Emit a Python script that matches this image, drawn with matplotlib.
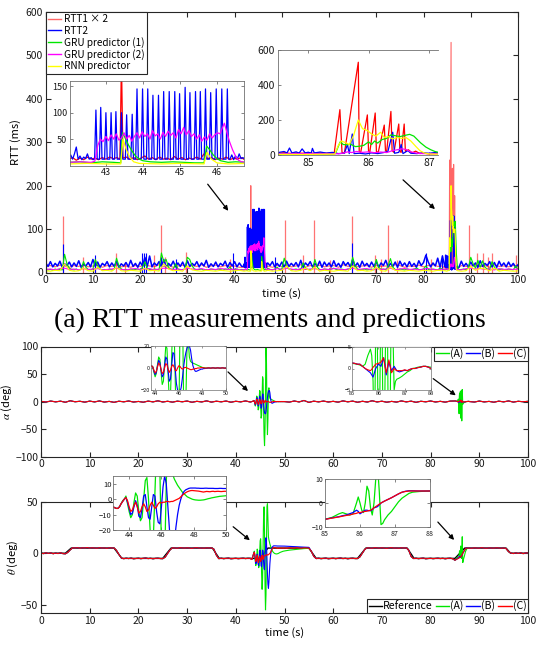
import numpy as np
import matplotlib
matplotlib.use("Agg")
import matplotlib.pyplot as plt
from matplotlib.patches import FancyArrowPatch
from matplotlib.lines import Line2D

plt.rcParams['font.family'] = ['Noto Sans CJK JP', 'DejaVu Sans']
plt.rcParams['mathtext.fontset'] = 'stix'

# ---------------------------------------------------------------- RTT data
t_half = np.arange(201) * 0.5      # 0 .. 100 s, 0.5 s grid
t_sec = np.arange(101) * 1.0       # 0 .. 100 s, 1 s grid

rtt2_base = [22, 14, 25, 13, 21, 15, 26, 12, 20, 16, 24, 13, 22, 14, 27, 12, 19, 15, 23, 13,
             30, 14, 24, 12, 21, 16, 25, 13, 22, 14, 26, 12, 20, 15, 23, 13, 28, 14, 21, 12,
             24, 15, 35, 14, 38, 13, 22, 16, 25, 13, 30, 12, 21, 15, 26, 13, 22, 14, 24, 12,
             27, 14, 21, 16, 25, 13, 22, 15, 28, 12, 20, 14, 24, 13, 21, 16, 26, 12, 23, 15,
             25, 13, 22, 14, 24, 12, 26, 15, 21, 13, 28, 14, 23, 12, 22, 16, 25, 13, 21, 14,
             24, 12, 26, 14, 21, 15, 23, 13, 28, 12, 22, 16, 25, 13, 21, 14, 26, 12, 24, 15,
             22, 13, 27, 14, 21, 12, 25, 16, 23, 13, 30, 14, 22, 12, 26, 15, 21, 13, 24, 14,
             25, 12, 22, 16, 28, 13, 21, 14, 24, 12, 26, 15, 22, 13, 25, 14, 21, 12, 27, 16,
             23, 40, 24, 13, 22, 15, 33, 12, 38, 14, 25, 13, 22, 16, 24, 12, 26, 14, 21, 13,
             24, 15, 22, 12, 27, 14, 21, 16, 25, 13, 23, 12, 26, 15, 22, 13, 24, 14, 21, 12,
             18]
rtt2_spk_t = [3.75, 10.4, 20.4, 20.8, 21.2, 24.5, 27.5, 39.6, 48.5, 64.8, 80.5, 84.0]
rtt2_spk_v = [65, 40, 45, 45, 45, 35, 30, 44, 36, 69, 44, 40]

rtt1_base = [14, 16, 13, 17, 15, 12, 16, 14, 18, 13, 15, 17, 12, 16, 14, 18, 13, 15, 12, 16,
             14, 17, 15, 13, 18, 14, 16, 12, 15, 17, 13, 16, 14, 18, 12, 15, 17, 13, 16, 14,
             15, 12, 17, 14, 16, 13, 18, 15, 12, 16, 14, 17, 13, 15, 18, 12, 16, 14, 17, 13,
             15, 16, 12, 18, 14, 17, 13, 15, 16, 12, 17, 14, 15, 13, 18, 16, 12, 15, 14, 17,
             13, 16, 18, 14, 15, 12, 17, 13, 16, 14, 15, 17, 13, 16, 12, 18, 14, 15, 13, 16, 14]
rtt1_spk_t = [0.05, 3.75, 7.95, 10.4, 14.9, 16.8, 22.9, 24.45, 25.2, 29.8, 39.0, 50.6, 54.5,
              56.8, 60.1, 64.8, 69.7, 70.9, 72.5, 74.4, 81.5, 89.6, 91.3, 92.5, 93.6, 94.5, 99.6]
rtt1_spk_v = [350, 130, 35, 30, 45, 25, 40, 110, 35, 48, 30, 121, 40,
              120, 28, 130, 40, 32, 110, 28, 30, 110, 45, 45, 35, 45, 40]

gru1_base = [8, 6, 7, 5, 8, 6, 7, 6, 42, 20, 10, 7, 6, 8, 5, 7, 25, 12, 7, 6,
             8, 30, 15, 8, 6, 7, 5, 8, 6, 7, 33, 15, 8, 6, 7, 5, 8, 6, 7, 8,
             6, 12, 25, 10, 7, 6, 8, 7, 6, 45, 25, 30, 12, 7, 8, 20, 8, 6, 7, 8,
             35, 30, 15, 8, 6, 7, 8, 5, 7, 6, 8, 7, 6, 8, 7, 5, 8, 7, 12, 6,
             7, 8, 6, 7, 8, 6, 7, 8, 6, 7, 8, 6, 7, 8, 10, 7, 6, 8, 12, 7,
             8, 33, 15, 8, 6, 7, 8, 6, 7, 22, 10, 7, 6, 8, 30, 12, 7, 6, 8, 7,
             6, 8, 10, 7, 6, 8, 7, 6, 8, 7, 35, 15, 8, 6, 7, 8, 6, 7, 8, 6,
             30, 12, 7, 8, 6, 15, 32, 12, 7, 6, 8, 7, 6, 8, 7, 6, 8, 10, 7, 6,
             8, 15, 7, 6, 8, 7, 6, 10, 8, 7, 7, 8, 6, 7, 8, 6, 7, 8, 6, 12,
             35, 20, 10, 28, 12, 27, 12, 8, 7, 25, 12, 7, 6, 8, 7, 6, 8, 7, 6, 15,
             8]
gru2_base = [7, 8, 6, 9, 10, 7, 8, 6, 9, 7, 8, 9, 6, 7, 8, 10, 7, 6, 8, 9,
             7, 8, 9, 6, 8, 10, 9, 7, 8, 6, 10, 8, 7, 9, 6, 8, 7, 9, 8, 7,
             8, 6, 9, 7, 8, 9, 7, 8, 6, 9, 7, 10, 8, 6, 9, 7, 8, 9, 6, 8,
             7, 9, 8, 6, 8, 10, 7, 8, 9, 6, 9, 7, 8, 10, 6, 8, 9, 7, 8, 6,
             8, 9, 7, 6, 8, 9, 7, 8, 6, 9, 10, 8, 9, 7, 8, 6, 9, 7, 8, 7, 8]
rnn_base = [4, 3, 5, 4, 20, 5, 3, 4, 10, 4, 3, 12, 4, 5, 3, 12, 4, 3, 5, 4,
            3, 10, 4, 5, 3, 20, 8, 4, 5, 3, 15, 6, 4, 3, 5, 4, 3, 5, 4, 3,
            4, 5, 3, 4, 5, 3, 4, 5, 3, 4, 5, 15, 4, 3, 5, 10, 4, 12, 3, 5,
            4, 3, 5, 4, 3, 15, 4, 5, 3, 4, 12, 4, 3, 12, 5, 4, 3, 5, 4, 3,
            5, 4, 3, 5, 4, 3, 4, 5, 3, 4, 14, 5, 10, 8, 4, 10, 3, 5, 4, 3, 4]

# congestion episode 1 (42 - 46.8 s)
rtt2_pre_t = [42.0, 42.05, 42.1, 42.15, 42.2, 42.25, 42.3, 42.35, 42.4, 42.45, 42.5, 42.55, 42.6, 42.65]
rtt2_pre_v = [14, 20, 12, 22, 35, 12, 18, 11, 16, 13, 22, 12, 15, 11]
rtt2_burst_t = [42.73, 42.86, 43.00, 43.14, 43.27, 43.42, 43.56, 43.71, 43.84, 43.99, 44.13, 44.27, 44.42,
                44.56, 44.71, 44.86, 44.99, 45.14, 45.27, 45.42, 45.55, 45.69, 45.83, 45.98, 46.13, 46.28]
rtt2_burst_v = [105, 110, 100, 100, 102, 100, 96, 97, 145, 145, 145, 133, 133,
                140, 140, 140, 136, 148, 138, 140, 140, 145, 138, 145, 145, 145]
rtt2_burst_floor = 12
rtt2_post_t = [46.35, 46.4, 46.45, 46.5, 46.55, 46.6, 46.65, 46.7, 46.75, 46.8]
rtt2_post_v = [12, 20, 11, 18, 12, 22, 13, 15, 12, 18]

rtt1_w1_t = [42.0, 42.1, 42.2, 42.3, 42.4, 42.5, 42.6, 42.7, 42.8, 42.9, 43.0, 43.1, 43.2, 43.3, 43.38,
             43.42, 43.46, 43.55, 43.65, 43.75, 43.85, 43.95, 44.05, 44.15, 44.25, 44.35, 44.45, 44.55,
             44.65, 44.75, 44.85, 44.95, 45.05, 45.15, 45.25, 45.35, 45.45, 45.55, 45.65, 45.75, 45.85,
             45.95, 46.05, 46.15, 46.25, 46.35, 46.45, 46.55, 46.65, 46.75]
rtt1_w1_v = [12, 15, 10, 14, 11, 16, 12, 14, 11, 15, 12, 16, 13, 15, 12, 200, 14, 16, 12, 15,
             11, 14, 18, 12, 15, 11, 16, 12, 14, 11, 17, 12, 15, 11, 14, 12, 16, 12, 22, 13,
             15, 11, 14, 12, 16, 11, 14, 12, 15, 11]
gru1_w1_t = [42.0, 42.3, 42.6, 42.9, 43.2, 43.40, 43.45, 43.5, 43.6, 43.7, 43.8, 43.9, 44.0, 44.2,
             44.5, 44.8, 45.1, 45.4, 45.65, 45.72, 45.8, 45.9, 46.0, 46.1, 46.3, 46.5, 46.8]
gru1_w1_v = [6, 7, 5, 7, 6, 5, 62, 55, 40, 28, 18, 12, 9, 7, 6, 7, 6, 5, 5, 37, 30, 20, 13, 9, 6, 7, 6]
gru2_w1_t = [42.0, 42.3, 42.6, 42.70, 42.78, 42.85, 42.92, 43.0, 43.07, 43.14, 43.21, 43.28, 43.35,
             43.42, 43.49, 43.56, 43.63, 43.70, 43.77, 43.84, 43.91, 43.98, 44.05, 44.12, 44.19,
             44.26, 44.33, 44.40, 44.47, 44.54, 44.61, 44.68, 44.75, 44.82, 44.89, 44.96, 45.03,
             45.10, 45.17, 45.24, 45.31, 45.38, 45.45, 45.52, 45.59, 45.66, 45.73, 45.80, 45.87,
             45.94, 46.01, 46.08, 46.15, 46.20, 46.27, 46.34, 46.42, 46.50, 46.58, 46.66, 46.8]
gru2_w1_v = [6, 7, 6, 8, 38, 50, 45, 55, 47, 58, 50, 60, 48, 52, 62, 50, 57, 46, 55, 62,
             52, 64, 55, 60, 50, 66, 56, 60, 50, 63, 55, 65, 57, 62, 52, 68, 60, 72, 58, 66,
             55, 60, 50, 58, 46, 54, 48, 60, 52, 58, 62, 60, 72, 80, 62, 45, 30, 18, 10, 7, 6]
rnn_w1_t = [42.0, 42.5, 43.0, 43.40, 43.46, 43.55, 43.65, 43.75, 43.9, 44.5, 45.0, 45.65, 45.73,
            45.85, 46.0, 46.3, 46.8]
rnn_w1_v = [3, 4, 3, 3, 50, 30, 15, 7, 4, 3, 4, 3, 25, 12, 5, 3, 4]

# congestion episode 2 (84.5 - 87.2 s)
rtt1_w2_t = [84.5, 84.6, 84.7, 84.8, 84.9, 85.0, 85.1, 85.2, 85.3, 85.4, 85.43, 85.525, 85.56, 85.60,
             85.83, 85.845, 85.87, 85.98, 86.0, 86.02, 86.11, 86.13, 86.16, 86.26, 86.28, 86.30,
             86.37, 86.39, 86.42, 86.50, 86.52, 86.54, 86.59, 86.61, 86.66, 86.72, 86.78, 86.85,
             86.9, 87.0, 87.1, 87.2]
rtt1_w2_v = [10, 13, 9, 12, 10, 13, 9, 12, 10, 11, 8, 259, 15, 12, 530, 20, 15, 229, 20, 15,
             240, 20, 15, 171, 25, 20, 249, 25, 15, 177, 20, 15, 177, 20, 30, 12, 22, 8, 12, 6, 8, 10]
rtt2_w2_t = [84.5, 84.6, 84.65, 84.69, 84.73, 84.8, 84.85, 84.9, 84.95, 85.0, 85.05, 85.07, 85.1,
             85.2, 85.3, 85.4, 85.5, 85.6, 85.65, 85.68, 85.73, 85.76, 85.85, 85.95, 86.05, 86.15,
             86.25, 86.32, 86.40, 86.43, 86.50, 86.54, 86.57, 86.65, 86.7, 86.8, 86.9, 87.0, 87.1, 87.2]
rtt2_w2_v = [14, 20, 12, 40, 12, 18, 11, 35, 12, 16, 11, 38, 12, 17, 11, 15, 8, 10, 60, 8,
             120, 8, 10, 6, 12, 8, 14, 20, 130, 10, 15, 60, 8, 25, 10, 8, 12, 10, 14, 11]
gru1_w2_t = [84.5, 84.8, 85.1, 85.4, 85.45, 85.50, 85.53, 85.58, 85.65, 85.70, 85.78, 85.85, 85.92,
             86.00, 86.05, 86.10, 86.15, 86.22, 86.30, 86.37, 86.45, 86.52, 86.60, 86.68, 86.75,
             86.86, 86.95, 87.03, 87.1, 87.2]
gru1_w2_v = [6, 7, 6, 5, 8, 50, 75, 60, 58, 62, 48, 50, 55, 75, 60, 80, 68, 88, 95, 115,
             110, 105, 112, 118, 108, 70, 45, 30, 20, 12]
gru2_w2_t = [84.5, 85.0, 85.5, 85.6, 85.65, 85.72, 85.80, 85.90, 86.0, 86.1, 86.2, 86.3, 86.40,
             86.48, 86.55, 86.62, 86.70, 86.8, 86.9, 87.2]
gru2_w2_v = [7, 8, 7, 12, 18, 14, 20, 15, 18, 13, 17, 14, 25, 30, 35, 32, 18, 10, 8, 7]
rnn_w2_t = [84.5, 84.9, 85.2, 85.44, 85.50, 85.55, 85.62, 85.68, 85.75, 85.83, 85.90, 85.98, 86.05,
            86.12, 86.20, 86.26, 86.33, 86.40, 86.48, 86.55, 86.62, 86.70, 86.78, 86.85, 86.92,
            87.0, 87.2]
rnn_w2_v = [4, 3, 4, 5, 55, 80, 70, 60, 110, 200, 150, 140, 120, 108, 130, 100, 105, 92, 100, 95,
            100, 80, 50, 25, 12, 6, 4]

# ------------------------------------------------------------ attitude data
alpha_quiet = [0.5, -0.8, 1.0, -0.5, 0.8, -1.2, 1.5, -0.3, 0.6, -1.0,
               0.9, -0.6, 1.2, -0.9, 0.4, -1.3, 0.7, -0.4, 1.1, -0.8,
               0.3, -1.1, 0.9, -0.5, 1.4, -0.7, 0.6, -1.0, 0.8, -0.3,
               1.0, -1.2, 0.5, -0.6, 1.3, -0.9, 0.7, -0.4, 1.0, -1.1,
               0.6, -0.5, 1.2, -0.8, 0.5, 0.0, 0.0, 0.0, 0.0, 0.0,
               0.4, -0.9, 1.1, -0.6, 2.0, -1.4, 0.8, -0.5, 1.0, -0.7,
               0.5, -1.0, 1.3, -0.4, 0.9, -1.2, 0.6, -0.8, 1.5, -0.6,
               0.7, -1.1, 0.4, -0.9, 1.2, -0.5, 0.8, -1.3, 0.6, -0.4,
               1.1, -0.7, 0.5, -1.0, 0.9, 0.0, 0.0, 0.0, 0.5, -0.8,
               1.0, -0.6, 0.4, -1.1, 0.8, -0.5, 1.2, -0.9, 0.6, -0.3, 0.5]

alpha_w1_t = np.round(43.6 + np.arange(65) * 0.1, 2)
alpha_c_w1 = [1.0, 2.0, 1.0, -2.0, -4.5, -3.0, 1.0, 4.5, 3.0, -1.0,
              -5.0, -4.0, 0.0, 4.0, 3.0, -1.0, -4.0, -2.0, 1.5, 3.0,
              1.0, -2.0, -2.5, 0.0, 2.0, 1.5, 0.0, -1.0, -0.5, 0.5,
              0.5, 0.0, -0.5, -1.0, -1.5, -1.5, -1.0, -1.0, -0.5, -0.5,
              0.0, 0.0, 0.0, 0.5, 0.3, 0.2, 0.0, -0.2, 0.0, 0.2,
              0.0, -0.2, 0.0, 0.2, 0.0, -0.2, 0.0, 0.2, 0.0, -0.2,
              0.0, 0.2, 0.0, -0.2, 0.0]
alpha_b_w1 = [1.0, 2.0, 1.0, -3.0, -6.0, -4.0, 2.0, 7.0, 5.0, -2.0,
              -8.0, -6.0, 2.0, 10.0, 8.0, -3.0, -12.0, -10.0, 2.0, 14.0,
              13.0, 0.0, -14.0, -20.0, -22.0, -22.0, -18.0, -10.0, 0.0, 8.0,
              14.0, 18.0, 20.0, 20.0, 16.0, 8.0, 2.0, -1.0, -3.0, -3.0,
              -2.5, -2.0, -1.5, -1.0, -1.0, -0.5, -0.5, -0.3, 0.0, 0.0,
              0.0, -0.2, 0.0, 0.2, 0.0, -0.2, 0.0, 0.2, 0.0, -0.2,
              0.0, 0.2, 0.0, -0.2, 0.0]
alpha_a_w1 = [1.0, 2.0, 1.0, -4.0, -8.0, -5.0, 3.0, 10.0, 8.0, -4.0,
              -15.0, -12.0, 4.0, 20.0, 18.0, -5.0, -30.0, -25.0, 10.0, 45.0,
              40.0, -10.0, -60.0, -80.0, -50.0, 30.0, 100.0, 70.0, -20.0, -60.0,
              -30.0, 20.0, 25.0, 10.0, 6.0, 5.0, 4.5, 4.0, 3.5, 3.0,
              2.5, 2.0, 1.5, 1.0, 0.5, 0.3, 0.0, 0.0, 0.0, 0.0,
              0.0, 0.0, 0.0, 0.0, 0.0, 0.0, 0.0, 0.0, 0.0, 0.0,
              0.0, 0.0, 0.0, 0.0, 0.0]

alpha_w2_t = [85.0, 85.1, 85.2, 85.3, 85.4, 85.5, 85.6, 85.7, 85.75, 85.8, 85.85, 85.9, 85.95, 86.0,
              86.05, 86.1, 86.15, 86.2, 86.25, 86.3, 86.35, 86.4, 86.45, 86.5, 86.55, 86.6, 86.65,
              86.7, 86.8, 86.9, 87.0, 87.1, 87.2, 87.3, 87.4, 87.5, 87.6, 87.7, 87.8, 87.9, 88.0]
alpha_c_w2 = [1.3, 1.2, 1.0, 1.0, 0.5, 0.0, -0.3, -0.5, -0.2, 0.3, 0.6, 1.0, 1.1, 1.2, 1.3,
              1.5, 2.0, 2.5, 0.5, -1.0, 0.5, 2.0, 0.5, -1.0, -0.5, 0.0, -0.3, -0.5, -0.5, -0.5,
              -0.3, -0.5, -0.2, 0.0, 0.0, 0.2, 0.3, 0.5, 0.5, 0.3, 0.0]
alpha_b_w2 = [1.3, 1.2, 1.0, 1.0, 0.5, 0.0, -0.5, -1.0, -1.5, -2.0, -1.0, 0.0, 0.5, 1.0, 0.8,
              0.5, 1.5, 2.5, 1.0, -1.5, 0.0, 1.5, 0.5, -0.5, 0.0, 0.5, 0.0, -0.5, -0.8, -0.6,
              -0.4, -0.5, -0.2, 0.0, 0.0, 0.2, 0.3, 0.5, 0.5, 0.3, 0.0]
alpha_a_w2 = [1.2, 1.1, 1.0, 0.8, 0.5, 1.0, 3.0, 4.5, 3.0, -3.0, -22.0, 10.0, 15.0, -20.0, -10.0,
              18.0, 5.0, -30.0, -5.0, 20.0, 8.0, -35.0, -10.0, 22.0, 10.0, -5.0, -3.0, -2.5, -2.2,
              -1.8, -1.3, -0.8, -0.5, 0.0, 0.1, 0.3, 0.4, 0.5, 0.5, 0.4, 0.3]

theta_ref_t = [0, 5.0, 6.2, 15.0, 16.6, 25.0, 26.7, 35.2, 36.6, 45.0, 46.6, 55.0, 56.5, 65.0, 66.7,
               75.2, 76.6, 85.0, 87.0, 95.5, 96.4, 100]
theta_ref_v = [0, 0, 5, 5, -5, -5, 5, 5, -5, -5, 5, 5, -5, -5, 5, 5, -5, -5, 5, 5, 0, 0]

theta_quiet = [0.3, -0.4, 0.5, -0.2, 0.4, -0.5, 0.2, -0.3, 0.5, -0.4,
               -0.6, 0.8, 3.2, 5.3, 5.0, 5.4, 4.8, 5.3, 5.0, 5.5,
               4.9, 5.3, 5.1, 4.8, 5.4, 5.0, 5.2, 4.7, 5.3, 5.1,
               5.1, 2.8, -1.2, -4.6, -5.3, -4.8, -5.2, -4.7, -5.4, -5.1,
               -4.8, -5.3, -5.0, -4.6, -5.2, -4.9, -5.4, -5.0, -4.8, -5.2,
               -5.3, -3.8, -0.2, 3.2, 5.3, 5.0, 4.8, 5.4, 5.1, 4.9,
               5.3, 5.0, 4.7, 5.2, 5.4, 4.9, 5.1, 4.8, 5.3, 5.0,
               5.2, 4.0, -1.8, -5.3, -4.8, -5.3, -5.0, -4.7, -5.4, -5.1,
               -4.9, -5.3, -5.0, -4.8, -5.2, -4.9, -5.0, -5.5, -4.8, -3.2,
               -2.5, -2.0, -1.5, 0.0, 4.0, 5.5, 5.0, 5.2, 4.8, 5.0,
               5.1, 4.8, 5.3, 5.0, 4.9, 5.4, 5.0, 4.8, 5.2, 5.1,
               5.0, 2.0, -3.0, -5.2, -4.8, -5.3, -5.0, -4.7, -5.4, -5.1,
               -4.8, -5.3, -5.0, -4.6, -5.2, -4.9, -5.4, -5.0, -4.8, -5.2,
               -5.2, -3.5, 0.2, 3.8, 5.3, 5.0, 4.8, 5.4, 5.1, 4.9,
               5.3, 5.0, 4.7, 5.2, 5.4, 4.9, 5.1, 4.8, 5.3, 5.0,
               5.2, 3.0, -3.2, -5.2, -4.8, -5.3, -5.0, -4.7, -5.4, -5.1,
               -4.9, -5.3, -5.0, -4.8, -5.2, -4.9, -5.4, -5.0, -4.8, -5.3,
               -6.5, -5.5, -4.0, -1.0, 3.0, 5.0, 5.2, 4.8, 5.3, 5.0,
               4.9, 5.4, 5.0, 4.8, 5.2, 5.1, 4.9, 5.3, 5.0, 4.8,
               5.2, 4.5, 1.5, 0.2, -0.3, 0.4, -0.2, 0.5, -0.4, 0.3,
               0.2]

theta_w1_t = np.round(43.0 + np.arange(71) * 0.1, 2)
theta_c_w1 = [-5.0, -5.5, -6.0, -6.0, -5.0, -3.0, -1.5, 0.0, 1.0, -1.0,
              -5.0, -8.0, -7.0, -4.0, -2.0, -5.0, -9.0, -8.0, -5.0, -3.0,
              -5.0, -8.0, -7.0, -4.0, -2.0, -4.0, -6.0, -5.0, -3.0, -2.0,
              -2.5, -2.0, -2.0, -1.5, -1.5, -1.8, -1.5, -1.5, -1.0, -0.5,
              0.0, 0.5, 1.5, 2.5, 3.5, 4.2, 4.8, 5.2, 5.5, 5.6,
              5.5, 5.4, 5.3, 5.2, 5.0, 4.8, 4.6, 4.8, 5.0, 4.9,
              4.8, 5.0, 5.1, 4.9, 5.0, 5.1, 5.0, 4.9, 5.0, 5.1,
              5.1]
theta_b_w1 = [-5.0, -5.5, -6.0, -6.0, -5.0, -3.0, -1.5, 0.0, 1.0, -2.0,
              -6.0, -10.0, -9.0, -5.0, -1.0, -4.0, -11.0, -12.0, -6.0, 2.0,
              3.0, -5.0, -12.0, -13.0, -5.0, 3.0, 2.0, -8.0, -15.0, -16.0,
              -5.0, 8.0, 15.0, 10.0, -5.0, -20.0, -30.0, -34.0, -28.0, -18.0,
              -10.0, -4.0, 0.0, 3.0, 5.0, 6.0, 6.5, 7.0, 7.2, 7.2,
              7.2, 7.2, 7.1, 7.1, 7.0, 7.0, 7.0, 7.1, 7.1, 7.0,
              7.0, 7.0, 7.0, 6.9, 6.9, 6.9, 7.0, 7.0, 6.9, 6.9,
              6.9]
theta_a_w1 = [-5.0, -5.5, -6.0, -6.0, -5.0, -3.0, -1.0, 0.0, 2.0, -3.0,
              -8.0, -12.0, -10.0, -2.0, 4.0, 2.0, -8.0, -14.0, -12.0, 0.0,
              12.0, 14.0, 0.0, -20.0, -35.0, -25.0, 5.0, 35.0, 45.0, 20.0,
              -30.0, -55.0, -40.0, 10.0, 45.0, 48.0, 30.0, 16.0, 13.0, 11.0,
              9.0, 7.5, 6.0, 4.5, 3.5, 2.5, 1.5, 1.0, 0.5, 0.0,
              -0.3, -0.5, -0.6, -0.7, -0.7, -0.6, -0.5, -0.3, 0.0, 0.3,
              0.5, 0.8, 1.0, 1.2, 1.4, 1.6, 1.8, 1.9, 2.0, 2.1,
              2.2]
theta_settle_t = [51.0, 52.0, 53.0, 54.0, 55.0]
theta_b_settle = [6.7, 6.4, 6.1, 5.9, 5.7]
theta_a_settle = [3.0, 3.5, 4.0, 4.5, 4.8]

theta_w2_t = [85.0, 85.2, 85.4, 85.5, 85.6, 85.7, 85.8, 85.9, 85.95, 86.0, 86.05, 86.1, 86.15, 86.2,
              86.25, 86.3, 86.35, 86.4, 86.45, 86.5, 86.55, 86.6, 86.65, 86.7, 86.8, 86.9, 87.0,
              87.1, 87.2, 87.3, 87.4, 87.5, 87.7, 88.0]
theta_c_w2 = [-6.8, -6.3, -5.8, -5.5, -5.2, -5.0, -4.6, -4.3, -4.0, -4.0,
              -3.8, -3.6, -3.5, -3.4, -3.2, -3.0, -2.6, -2.0, -1.5, -1.0,
              -0.5, 0.0, 0.4, 0.8, 1.5, 2.2, 3.0, 3.8, 4.5, 4.8,
              5.0, 5.0, 5.0, 5.0]
theta_b_w2 = [-6.8, -6.2, -5.7, -5.3, -5.0, -4.5, -4.0, -3.0, -3.5, -4.5,
              -4.0, -3.5, -3.0, -3.0, -3.2, -3.2, -2.8, -2.0, -1.8, -1.5,
              -0.8, 0.0, 0.4, 0.8, 1.5, 2.2, 3.0, 3.8, 4.5, 4.9,
              5.1, 5.1, 5.0, 5.0]
theta_a_w2 = [-6.8, -6.0, -4.5, -4.0, -4.5, -5.0, -4.5, 0.0, 2.5, 0.0,
              -3.0, -4.0, 0.0, 7.0, 5.0, -2.0, -5.0, 0.0, 10.0, 16.0,
              5.0, -9.0, -8.5, -7.0, -5.0, -3.5, -1.5, 0.5, 2.0, 3.0,
              4.0, 4.5, 4.8, 5.0]

C_RED, C_BLUE, C_GREEN, C_MAG, C_YEL = '#ff0000', '#0000ff', '#00e600', '#ff00ff', '#ffff00'
EDGE = '#262626'


def splice(tb, vb, *windows):
    """Replace the part of a coarse trace covered by each finer window."""
    t = np.asarray(tb, float)
    v = np.asarray(vb, float)
    for tw, vw in windows:
        tw = np.asarray(tw, float)
        vw = np.asarray(vw, float)
        keep = (t < tw.min()) | (t > tw.max())
        t = np.concatenate([t[keep], tw])
        v = np.concatenate([v[keep], vw])
        order = np.argsort(t, kind='stable')
        t, v = t[order], v[order]
    return t, v


burst_t, burst_v = [], []
for p, h in zip(rtt2_burst_t, rtt2_burst_v):
    burst_t += [p - 0.035, p, p + 0.035]
    burst_v += [rtt2_burst_floor, h, rtt2_burst_floor]
rtt2_w1_t = rtt2_pre_t + burst_t + rtt2_post_t
rtt2_w1_v = rtt2_pre_v + burst_v + rtt2_post_v

rtt1 = splice(t_sec, rtt1_base, (rtt1_w1_t, rtt1_w1_v), (rtt1_w2_t, rtt1_w2_v))
rtt2 = splice(t_half, rtt2_base, (rtt2_w1_t, rtt2_w1_v), (rtt2_w2_t, rtt2_w2_v))
gru1 = splice(t_half, gru1_base, (gru1_w1_t, gru1_w1_v), (gru1_w2_t, gru1_w2_v))
gru2 = splice(t_sec, gru2_base, (gru2_w1_t, gru2_w1_v), (gru2_w2_t, gru2_w2_v))
rnn = splice(t_sec, rnn_base, (rnn_w1_t, rnn_w1_v), (rnn_w2_t, rnn_w2_v))

alpha_a = splice(t_sec, alpha_quiet, (alpha_w1_t, alpha_a_w1), (alpha_w2_t, alpha_a_w2))
alpha_b = splice(t_sec, alpha_quiet, (alpha_w1_t, alpha_b_w1), (alpha_w2_t, alpha_b_w2))
alpha_c = splice(t_sec, alpha_quiet, (alpha_w1_t, alpha_c_w1), (alpha_w2_t, alpha_c_w2))

theta_a = splice(t_half, theta_quiet,
                 (list(theta_w1_t) + theta_settle_t, theta_a_w1 + theta_a_settle),
                 (theta_w2_t, theta_a_w2))
theta_b = splice(t_half, theta_quiet,
                 (list(theta_w1_t) + theta_settle_t, theta_b_w1 + theta_b_settle),
                 (theta_w2_t, theta_b_w2))
theta_c = splice(t_half, theta_quiet, (theta_w1_t, theta_c_w1), (theta_w2_t, theta_c_w2))

# ---------------------------------------------------------------- layout
W, H = 539, 648
fig = plt.figure(figsize=(W / 100, H / 100), dpi=100)


def box(x0, y0, x1, y1):
    return [x0 / W, 1 - y1 / H, (x1 - x0) / W, (y1 - y0) / H]


def style(ax, fs, lw=0.8, tl=3.5, color=EDGE, right=True):
    ax.tick_params(direction='in', length=tl, width=lw, labelsize=fs, top=True, right=right,
                   colors=color, labelcolor='#1a1a1a', pad=2)
    for s in ax.spines.values():
        s.set_linewidth(lw)
        s.set_color(color)


def arrow(x0, y0, x1, y1):
    fig.add_artist(FancyArrowPatch((x0 / W, 1 - y0 / H), (x1 / W, 1 - y1 / H),
                                   transform=fig.transFigure, arrowstyle='-|>',
                                   mutation_scale=7, lw=0.9, color='k', zorder=20))


def draw_rtt(ax, lw, main=False):
    ax.plot(*rtt1, color=C_RED, lw=lw, alpha=0.6 if main else 1.0)
    if main:
        ax.vlines(rtt1_spk_t, 0, rtt1_spk_v, color=C_RED, lw=0.9, alpha=0.55)
    ax.plot(*rtt2, color=C_BLUE, lw=lw * 1.4 if main else lw)
    if main:
        ax.vlines(rtt2_spk_t, 0, rtt2_spk_v, color=C_BLUE, lw=0.8)
    ax.plot(*gru1, color=C_GREEN, lw=lw)
    ax.plot(*gru2, color=C_MAG, lw=lw)
    ax.plot(*rnn, color=C_YEL, lw=lw)


# ---- (a) RTT
ax1 = fig.add_axes(box(45.7, 12, 518, 272.5))
draw_rtt(ax1, 0.8, main=True)
ax1.set_xlim(0, 100)
ax1.set_ylim(0, 600)
ax1.set_xticks(np.arange(0, 101, 10))
ax1.set_yticks(np.arange(0, 601, 100))
style(ax1, 7.5)
ax1.set_xlabel('time (s)', fontsize=8, labelpad=2)
ax1.set_ylabel('RTT (ms)', fontsize=8, labelpad=3)
leg_handles = [Line2D([], [], color=c, lw=1) for c in (C_RED, C_BLUE, C_GREEN, C_MAG, C_YEL)]
leg_handles[0].set_alpha(0.6)
leg = ax1.legend(leg_handles, ['RTT1 × 2', 'RTT2', 'GRU predictor (1)', 'GRU predictor (2)',
                               'RNN predictor'],
                 loc='upper left', borderaxespad=0, fontsize=7.2, handlelength=1.3,
                 handletextpad=0.3, labelspacing=0.12, borderpad=0.25, fancybox=False,
                 framealpha=1, edgecolor=EDGE)
leg.get_frame().set_linewidth(0.8)

in1 = fig.add_axes(box(70, 81, 244, 165.5))
draw_rtt(in1, 0.9)
in1.set_xlim(42.03, 46.73)
in1.set_ylim(0, 160)
in1.set_xticks([43, 44, 45, 46])
in1.set_yticks([50, 100, 150])
style(in1, 6.5, lw=0.6, tl=2, color='#707070')

in2 = fig.add_axes(box(278, 50, 438, 155))
draw_rtt(in2, 0.9)
in2.set_xlim(84.5, 87.15)
in2.set_ylim(0, 600)
in2.set_xticks([85, 86, 87])
in2.set_yticks([0, 200, 400, 600])
style(in2, 7.5, lw=0.6, tl=2, color='#707070', right=False)
in2.spines['right'].set_visible(False)

arrow(206, 182, 230, 213)
arrow(401, 178, 437, 211)

fig.text(0.5, 1 - 320 / H, '(a) RTT measurements and predictions', ha='center', va='center',
         family='Liberation Serif', fontsize=20)

# ---- attitude alpha


def draw_att(ax, a, b, c, lw):
    ax.plot(*a, color=C_GREEN, lw=lw)
    ax.plot(*b, color=C_BLUE, lw=lw)
    ax.plot(*c, color=C_RED, lw=lw)


ax2 = fig.add_axes(box(41, 346.5, 528, 456.7))
draw_att(ax2, alpha_a, alpha_b, alpha_c, 0.8)
ax2.set_xlim(0, 100)
ax2.set_ylim(-100, 100)
ax2.set_xticks(np.arange(0, 101, 10))
ax2.set_yticks([-100, -50, 0, 50, 100])
style(ax2, 7.5)
ax2.set_ylabel(r'$\alpha$ (deg)', fontsize=8, labelpad=1)
leg2 = ax2.legend([Line2D([], [], color=c, lw=1) for c in (C_GREEN, C_BLUE, C_RED)],
                  ['(A)', '(B)', '(C)'], loc='upper right', ncol=3, borderaxespad=0,
                  fontsize=7.6, handlelength=1.3, handletextpad=0.1, columnspacing=0.25,
                  borderpad=0.15, fancybox=False, framealpha=1, edgecolor=EDGE)
leg2.get_frame().set_linewidth(0.8)

ia1 = fig.add_axes(box(151, 346, 226, 390))
draw_att(ia1, alpha_a, alpha_b, alpha_c, 0.8)
ia1.set_xlim(43.65, 50)
ia1.set_ylim(-20, 20)
ia1.set_xticks([44, 46, 48, 50])
ia1.set_yticks([-20, 0, 20])
style(ia1, 4, lw=0.5, tl=1.5, color='#707070')
ia1.tick_params(pad=1)

ia2 = fig.add_axes(box(352, 347, 431, 390))
draw_att(ia2, alpha_a, alpha_b, alpha_c, 0.8)
ia2.set_xlim(85, 88)
ia2.set_ylim(-5, 5)
ia2.set_xticks([85, 86, 87, 88])
ia2.set_yticks([-5, 0, 5])
style(ia2, 4, lw=0.5, tl=1.5, color='#707070')
ia2.tick_params(pad=1)

arrow(226, 370, 250, 393)
arrow(431, 377, 458, 397)

# ---- attitude theta
ax3 = fig.add_axes(box(41, 501.7, 528, 613))
ax3.plot(theta_ref_t, theta_ref_v, color='k', lw=1.0)
draw_att(ax3, theta_a, theta_b, theta_c, 0.8)
ax3.set_xlim(0, 100)
ax3.set_ylim(-58, 50)
ax3.set_xticks(np.arange(0, 101, 10))
ax3.set_yticks([-50, 0, 50])
style(ax3, 7.5)
ax3.set_xlabel('time (s)', fontsize=8, labelpad=1)
ax3.set_ylabel(r'$\theta$ (deg)', fontsize=8, labelpad=1)
leg3 = ax3.legend([Line2D([], [], color=c, lw=1) for c in ('k', C_GREEN, C_BLUE, C_RED)],
                  ['Reference', '(A)', '(B)', '(C)'], loc='lower right', ncol=4,
                  borderaxespad=0, fontsize=7.6, handlelength=1.3, handletextpad=0.1,
                  columnspacing=0.25, borderpad=0.15, fancybox=False, framealpha=1,
                  edgecolor=EDGE)
leg3.get_frame().set_linewidth(0.8)

it1 = fig.add_axes(box(113, 476, 226, 530))
draw_att(it1, theta_a, theta_b, theta_c, 0.9)
it1.set_xlim(43, 50)
it1.set_ylim(-20, 15)
it1.set_xticks([44, 46, 48, 50])
it1.set_yticks([-20, -10, 0, 10])
style(it1, 5.5, lw=0.6, tl=2, color='#707070')
it1.tick_params(pad=1)

it2 = fig.add_axes(box(325, 479, 430, 527))
draw_att(it2, theta_a, theta_b, theta_c, 0.9)
it2.set_xlim(85, 88)
it2.set_ylim(-10, 10)
it2.set_xticks([85, 86, 87, 88])
it2.set_yticks([-10, 0, 10])
style(it2, 5, lw=0.6, tl=2, color='#707070')
it2.tick_params(axis='y', pad=1.5)
it2.tick_params(axis='x', pad=2)

arrow(231, 525, 252, 542)
arrow(436, 520, 456, 542)

fig.savefig('out.png', dpi=100)
